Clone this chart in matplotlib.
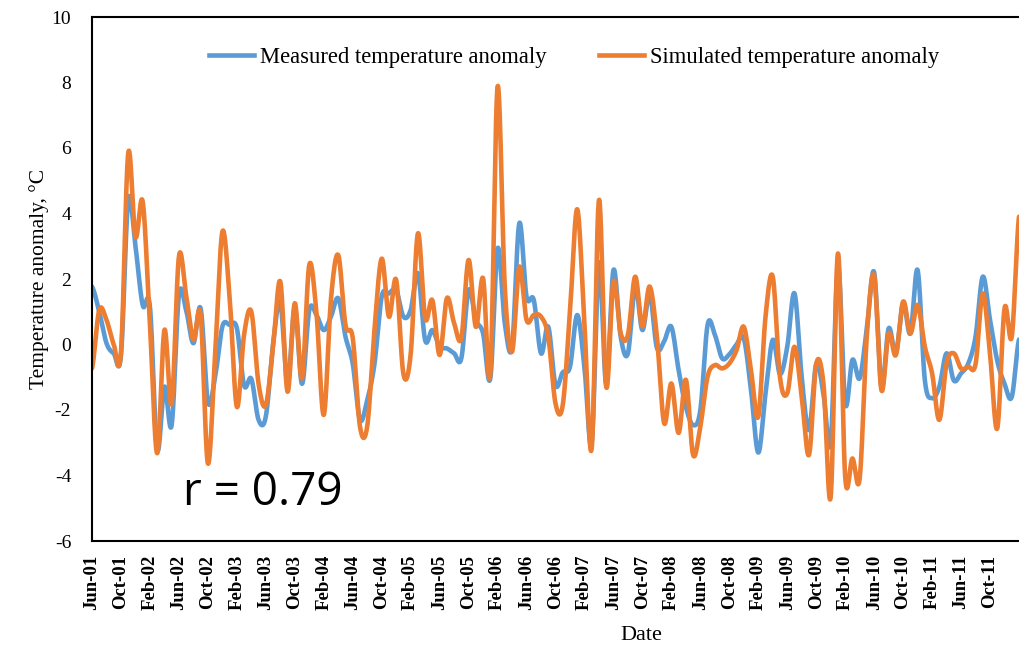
import numpy as np
import matplotlib
matplotlib.use("Agg")
import matplotlib.pyplot as plt
from matplotlib.lines import Line2D

plt.rcParams["axes.unicode_minus"] = False

# ---------------- data (monthly, Jun-01 ... ) ----------------
tick_labels = ["Jun-01", "Oct-01", "Feb-02", "Jun-02", "Oct-02", "Feb-03", "Jun-03", "Oct-03",
               "Feb-04", "Jun-04", "Oct-04", "Feb-05", "Jun-05", "Oct-05", "Feb-06", "Jun-06",
               "Oct-06", "Feb-07", "Jun-07", "Oct-07", "Feb-08", "Jun-08", "Oct-08", "Feb-09",
               "Jun-09", "Oct-09", "Feb-10", "Jun-10", "Oct-10", "Feb-11", "Jun-11", "Oct-11"]

measured = [1.77, 1.0, 0.04, -0.27, -0.32, 4.41, 3.0, 1.2, 1.15, -3.2,
            -1.29, -2.46, 1.5, 1.05, 0.04, 1.1, -1.75, -1.0, 0.55, 0.6,
            0.5, -1.25, -1.05, -2.3, -2.2, 0.0, 1.3, -1.2, 1.1, -1.2,
            1.05, 0.9, 0.44, 0.85, 1.41, 0.24, -0.58, -2.3, -1.7, -0.6,
            1.46, 1.56, 1.66, 0.85, 1.05, 2.17, 0.13, 0.44, -0.07, -0.12,
            -0.27, -0.42, 1.66, 0.75, 0.34, -1.03, 2.93, 0.65, -0.07, 3.7,
            1.46, 1.36, -0.27, 0.54, -1.24, -0.85, -0.68, 0.9, -0.7, -3.0,
            2.5, -1.2, 2.27, 0.24, -0.27, 1.77, 0.44, 1.56, -0.1, 0.1,
            0.54, -0.78, -1.9, -2.46, -2.0, 0.6, 0.3, -0.42, -0.3, 0.0,
            0.19, -1.4, -3.3, -1.5, 0.14, -0.9, -0.07, 1.56, -1.0, -2.61,
            -0.6, -1.5, -3.0, 2.4, -1.8, -0.47, -1.03, 0.5, 2.2, -1.29,
            0.49, -0.27, 1.26, 0.34, 2.27, -1.09, -1.64, -1.29, -0.27, -1.1,
            -0.88, -0.58, 0.24, 2.07, 0.75, -0.5, -1.2, -1.6, 0.15]

simulated = [-0.73, 1.05, 0.75, 0.0, -0.25, 5.84, 3.29, 4.36, 0.6, -3.32,
             0.44, -1.8, 2.68, 1.5, 0.14, 0.9, -3.63, -0.3, 3.44, 1.46,
             -1.9, 0.3, 1.0, -1.2, -1.85, -0.07, 1.92, -1.44, 1.26, -1.03,
             2.43, 0.95, -2.15, 1.4, 2.73, 0.6, 0.2, -2.5, -2.5, 0.44,
             2.62, 0.85, 1.97, -0.9, -0.3, 3.39, 0.8, 1.35, -0.32, 1.41,
             0.65, 0.2, 2.58, 0.54, 2.02, -0.88, 7.87, 1.76, -0.22, 2.37,
             0.75, 0.9, 0.85, 0.24, -1.8, -1.85, 1.0, 4.13, 0.6, -3.17,
             4.41, -1.29, 1.92, 0.34, 0.3, 2.07, 0.55, 1.77, 0.24, -2.4,
             -1.19, -2.7, -1.08, -3.37, -2.5, -0.98, -0.63, -0.73, -0.58, -0.17,
             0.54, -0.8, -2.2, 0.85, 2.07, -1.0, -1.49, -0.07, -1.6, -3.37,
             -0.6, -1.2, -4.65, 2.78, -4.04, -3.48, -4.09, 0.3, 2.1, -1.39,
             0.34, -0.32, 1.31, 0.34, 1.21, -0.07, -0.88, -2.3, -0.58, -0.27,
             -0.73, -0.68, -0.6, 1.56, -0.3, -2.56, 1.1, 0.24, 3.9]

BLUE = "#5B9BD5"
ORANGE = "#ED7D31"
SERIF = "Liberation Serif"


def smooth(y, n=24):
    """Catmull-Rom smoothing (Excel-like smoothed line) for drawing."""
    y = np.asarray(y, float)
    p = np.concatenate([[y[0]], y, [y[-1]]])
    t = np.linspace(0, 1, n, endpoint=False)
    xs, ys = [], []
    for k in range(len(y) - 1):
        p0, p1, p2, p3 = p[k], p[k + 1], p[k + 2], p[k + 3]
        ys.append(0.5 * (2 * p1 + (-p0 + p2) * t + (2 * p0 - 5 * p1 + 4 * p2 - p3) * t ** 2
                         + (-p0 + 3 * p1 - 3 * p2 + p3) * t ** 3))
        xs.append(k + t)
    xs.append(np.array([len(y) - 1.0]))
    ys.append(np.array([y[-1]]))
    return np.concatenate(xs), np.concatenate(ys)


W, H = 1019, 649
fig = plt.figure(figsize=(W / 100, H / 100), dpi=100)
ax = fig.add_axes([92 / W, 1 - 541 / H, (1019 - 92) / W, (541 - 17) / H])

xm, ym = smooth(measured)
xs, ys = smooth(simulated)
ax.plot(xm, ym, color=BLUE, lw=3.3, solid_capstyle="round", solid_joinstyle="round")
ax.plot(xs, ys, color=ORANGE, lw=3.3, solid_capstyle="round", solid_joinstyle="round")

ax.set_xlim(0, len(measured) - 1)
ax.set_ylim(-6, 10)
ax.set_yticks(np.arange(-6, 11, 2))
ax.set_xticks(np.arange(0, 4 * len(tick_labels), 4))
ax.set_xticklabels(tick_labels, rotation=90, fontfamily=SERIF, fontweight="bold",
                   fontsize=13.5, va="top", ha="center")
for lab in ax.get_yticklabels():
    lab.set_fontfamily(SERIF)
    lab.set_fontsize(14)
ax.tick_params(axis="both", length=0)
ax.tick_params(axis="y", pad=15)
ax.tick_params(axis="x", pad=10)

for s in ["left", "top", "bottom"]:
    ax.spines[s].set_color("black")
    ax.spines[s].set_linewidth(1.5)
ax.spines["right"].set_visible(False)

ax.set_ylabel("Temperature anomaly, \u00b0C", fontfamily=SERIF, fontsize=15.5, labelpad=2)
fig.text(641 / W, 1 - 636 / H, "Date", fontfamily=SERIF, fontsize=16, ha="center", va="center")

handles = [Line2D([], [], color=BLUE, lw=3.3),
           Line2D([], [], color=ORANGE, lw=3.3)]
ax.legend(handles, ["Measured temperature anomaly", "Simulated temperature anomaly"],
          loc="center", bbox_to_anchor=((574 - 92) / 927, (541 - 57) / 524), ncol=2,
          frameon=False, prop={"family": SERIF, "size": 16.3}, handlelength=2.0,
          handletextpad=0.25, columnspacing=2.3)

fig.text(183 / W, 1 - 505 / H, "r = 0.79", fontfamily="Open Sans", fontsize=33,
         ha="left", va="baseline")

fig.savefig("out.png", dpi=100)
